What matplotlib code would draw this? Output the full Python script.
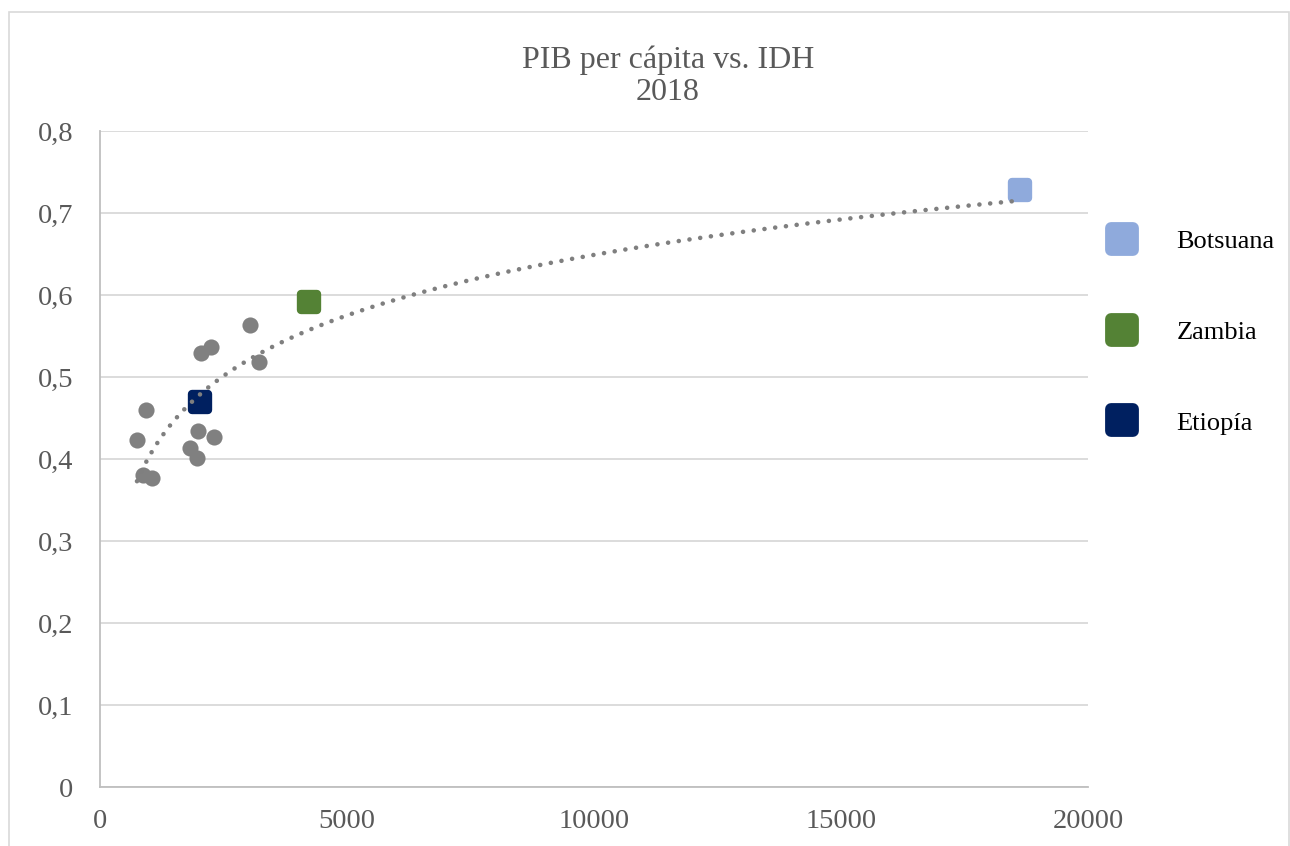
import matplotlib
matplotlib.use("Agg")
import matplotlib.pyplot as plt
import numpy as np
from matplotlib.lines import Line2D
from matplotlib.markers import MarkerStyle
from matplotlib.patches import Rectangle
from matplotlib.ticker import FuncFormatter, MultipleLocator

plt.rcParams['font.family'] = ['Liberation Serif', 'DejaVu Serif']

# PIB per cápita (USD) and IDH, 2018
otros_pib = [749, 931, 870, 1053, 1822, 1964, 1984, 2308, 2045, 2247, 3036, 3219]
otros_idh = [0.423, 0.460, 0.380, 0.377, 0.413, 0.401, 0.434, 0.427, 0.529, 0.537, 0.563, 0.518]

paises = ['Botsuana', 'Zambia', 'Etiopía']
paises_pib = [18623, 4224, 2024]
paises_idh = [0.728, 0.591, 0.470]
paises_color = ['#8FAADC', '#548235', '#002060']

GRAY_TXT = '#595959'

fig = plt.figure(figsize=(12.9, 8.46), dpi=100)
ax = fig.add_axes([100 / 1290, 59 / 846, 988 / 1290, 656 / 846])

# outer chart border
fig.patches.append(Rectangle((9 / 1290, -0.05), 1280 / 1290, 1.05 - 12 / 846,
                             transform=fig.transFigure, fill=False,
                             edgecolor='#D9D9D9', linewidth=1.2))

ax.scatter(otros_pib, otros_idh, s=135, color='#808080', zorder=3, linewidths=0)

# rounded squares: thick edge with round joins
square = MarkerStyle('s', joinstyle='round')
for x, y, c in zip(paises_pib, paises_idh, paises_color):
    ax.plot([x], [y], marker=square, markersize=11, color=c,
            markeredgecolor=c, markeredgewidth=6, linestyle='none', zorder=4)

# logarithmic trend line over all countries
all_x = np.array(otros_pib + paises_pib, dtype=float)
all_y = np.array(otros_idh + paises_idh, dtype=float)
a, b = np.polyfit(np.log(all_x), all_y, 1)
xs = np.linspace(all_x.min(), all_x.max(), 400)
ax.plot(xs, a * np.log(xs) + b, color='#7F7F7F', linewidth=3.3,
        linestyle=(0, (0.01, 2.35)), dash_capstyle='round', zorder=5)

ax.set_xlim(0, 20000)
ax.set_ylim(0, 0.8)
ax.xaxis.set_major_locator(MultipleLocator(5000))
ax.yaxis.set_major_locator(MultipleLocator(0.1))
ax.yaxis.set_major_formatter(FuncFormatter(
    lambda v, p: '0' if abs(v) < 1e-9 else f'{v:.1f}'.replace('.', ',')))
ax.grid(axis='y', color='#D9D9D9', linewidth=1.3)
ax.set_axisbelow(True)
for side in ('top', 'right'):
    ax.spines[side].set_visible(False)
for side in ('left', 'bottom'):
    ax.spines[side].set_color('#BFBFBF')
    ax.spines[side].set_linewidth(1.3)
ax.tick_params(length=0, labelsize=20.5, labelcolor=GRAY_TXT)
ax.tick_params(axis='y', pad=19)
ax.tick_params(axis='x', pad=16)

fig.text(668 / 1290, 1 - 76 / 846, 'PIB per cápita vs. IDH\n2018', ha='center',
         va='center', fontsize=23, color=GRAY_TXT, linespacing=1.15)

handles = [Line2D([], [], marker=square, markersize=16, color=c, markeredgecolor=c,
                  markeredgewidth=8.5, linestyle='none') for c in paises_color]
fig.legend(handles, paises, loc='upper left', bbox_to_anchor=(1096 / 1290, 1 - 219 / 846),
           frameon=False, fontsize=19, labelspacing=2.55, handlelength=1.2,
           handletextpad=1.45, borderaxespad=0)

fig.savefig('out.png', dpi=100)
